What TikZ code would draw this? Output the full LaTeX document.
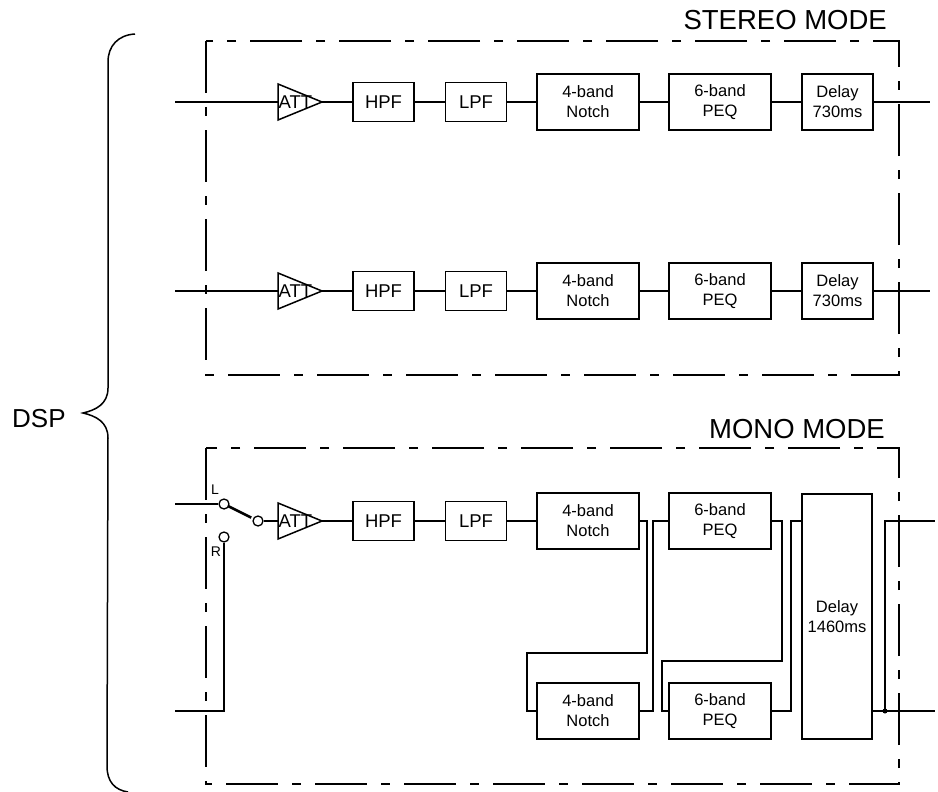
\documentclass[tikz,border=0pt]{standalone}
\usepackage{fontspec}
\setmainfont{Liberation Sans}
\usetikzlibrary{calc}
\begin{document}
\begin{tikzpicture}[x=1pt,y=-1pt,
  wire/.style={line width=1.5pt},
  blk/.style={draw,line width=1.5pt,inner sep=0pt,align=center,font=\fontsize{16.5}{20}\selectfont},
  filt/.style={blk,minimum width=61pt,minimum height=39pt,font=\fontsize{18.5}{20}\selectfont},
  wide/.style={blk,minimum width=102pt,minimum height=56pt},
  dly/.style={blk,minimum width=71pt,minimum height=56pt},
  frame/.style={line width=1.5pt,dash pattern=on 52pt off 14pt on 9pt off 14pt},
  title/.style={font=\fontsize{27.5}{30}\selectfont,inner sep=0pt,anchor=base east},
  contact/.style={circle,draw,line width=1.3pt,minimum size=10pt,inner sep=0pt},
  lbl/.style={font=\fontsize{14}{14}\selectfont,inner sep=0pt}
]
\useasboundingbox (0,0) rectangle (938,792);

\newcommand\attblk[2]{%
  \draw[wire] (278,{#2-18}) -- (322,#2) -- (278,{#2+18}) -- cycle;
  \coordinate (#1in) at (278,#2);
  \coordinate (#1out) at (322,#2);
  \node[font=\fontsize{18.5}{20}\selectfont,inner sep=0pt,anchor=west] (#1t) at (278.5,{#2+0.5}) {ATT};
}
\newcommand\stereorow[2]{%
  \coordinate (in#1) at (175,#2);
  \attblk{att#1}{#2}
  \node[filt] (hpf#1) at (383.5,#2) {HPF};
  \node[filt] (lpf#1) at (476,#2) {LPF};
  \node[wide] (notch#1) at (588,#2) {4-band\\Notch};
  \node[wide] (peq#1) at (720,#2) {6-band\\PEQ};
  \node[dly] (del#1) at (837.5,#2) {Delay\\730ms};
  \coordinate (out#1) at (930,#2);
  \draw[wire] (in#1) -- (att#1in);
  \draw[wire] (att#1out) -- (hpf#1);
  \draw[wire] (hpf#1) -- (lpf#1);
  \draw[wire] (lpf#1) -- (notch#1);
  \draw[wire] (notch#1) -- (peq#1);
  \draw[wire] (peq#1) -- (del#1);
  \draw[wire] (del#1) -- (out#1);
}

% brace and DSP label
\draw[line width=1.5pt] (135,34) .. controls (118,35) and (108,46) .. (108,62)
  -- (108,388) .. controls (108,404) and (96,410) .. (83,413)
  .. controls (96,416) and (108,422) .. (108,438)
  -- (107,766) .. controls (107,782) and (115,790) .. (128,792);
\node[font=\fontsize{26}{28}\selectfont,inner sep=0pt,anchor=base west] (dsp) at (12,427) {DSP};

% frames
\draw[frame] (206,41) rectangle (899,375);
\draw[frame] (206,448) rectangle (899,784);
\node[title] (stereo) at (887,30) {STEREO MODE};
\node[title] (mono) at (885,438) {MONO MODE};

% stereo rows
\stereorow{1}{102}
\stereorow{2}{291}

% mono row
\node[contact] (swL) at (224,504) {};
\node[contact] (swS) at (258,521) {};
\node[contact] (swR) at (224,537) {};
\node[lbl] (labL) at (215,490) {L};
\node[lbl] (labR) at (216,552) {R};
\coordinate (inL) at (175,504);
\coordinate (inR) at (175,711);
\draw[wire] (inL) -- (swL);
\draw[line width=2.6pt] ($(swL)!5pt!(swS)$) -- ($(swL)!0.8!(swS)$);
\draw[wire] (swR) |- (inR);
\attblk{att3}{521}
\draw[wire] (swS) -- (att3in);
\node[filt] (hpf3) at (383.5,521) {HPF};
\node[filt] (lpf3) at (476,521) {LPF};
\node[wide] (notch3) at (588,521) {4-band\\Notch};
\node[wide] (peq3) at (720,521) {6-band\\PEQ};
\node[wide] (notch4) at (588,711) {4-band\\Notch};
\node[wide] (peq4) at (720,711) {6-band\\PEQ};
\node[blk,minimum width=70pt,minimum height=245pt] (del3) at (837,616.5) {Delay\\1460ms};
\draw[wire] (att3out) -- (hpf3);
\draw[wire] (hpf3) -- (lpf3);
\draw[wire] (lpf3) -- (notch3);
\draw[wire] (notch3.east) -| (647,653) -| (527,711) -- (notch4.west);
\draw[wire] (notch4.east) -| (653,521) -- (peq3.west);
\draw[wire] (peq3.east) -| (782,661) -| (662,711) -- (peq4.west);
\draw[wire] (peq4.east) -| (791,521) -- (del3.west |- peq3.east);
\node[circle,fill,inner sep=0pt,minimum size=5pt] (dot) at (885,711) {};
\coordinate (outA) at (935,521);
\coordinate (outB) at (935,711);
\draw[wire] (del3.east |- notch4.east) -- (outB);
\draw[wire] (dot.center) |- (outA);
\end{tikzpicture}
\end{document}
